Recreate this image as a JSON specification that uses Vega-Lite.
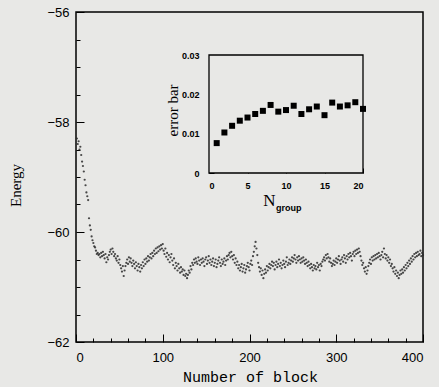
{
"$schema": "https://vega.github.io/schema/vega-lite/v6.json",
"width": 347, "height": 330,
"autosize": {"type": "none"},
"padding": {"left": 76, "top": 12, "right": 16, "bottom": 45},
"background": "#e8e8e6",
"config": {"view": {"stroke": "black", "strokeWidth": 1.5}, "axis": {"grid": false, "domainColor": "black", "tickColor": "black", "labelColor": "black", "titleColor": "black", "tickWidth": 1, "labelOverlap": false}},
"datasets": {
"energy": [
{"block":1,"energy":-58.30},{"block":2,"energy":-58.40},{"block":3,"energy":-58.35},{"block":4,"energy":-58.50},{"block":5,"energy":-58.45},{"block":6,"energy":-58.60},{"block":7,"energy":-58.72},{"block":8,"energy":-58.80},{"block":9,"energy":-58.90},{"block":10,"energy":-59.05},
{"block":11,"energy":-59.15},{"block":12,"energy":-59.28},{"block":13,"energy":-59.35},{"block":14,"energy":-59.42},{"block":15,"energy":-59.75},{"block":16,"energy":-59.88},{"block":17,"energy":-59.96},{"block":18,"energy":-60.08},{"block":19,"energy":-60.15},{"block":20,"energy":-60.20},
{"block":21,"energy":-60.26},{"block":22,"energy":-60.28},{"block":23,"energy":-60.34},{"block":24,"energy":-60.40},{"block":25,"energy":-60.38},{"block":26,"energy":-60.42},{"block":27,"energy":-60.40},{"block":28,"energy":-60.46},{"block":29,"energy":-60.38},{"block":30,"energy":-60.44},
{"block":31,"energy":-60.36},{"block":32,"energy":-60.42},{"block":33,"energy":-60.48},{"block":34,"energy":-60.40},{"block":35,"energy":-60.55},{"block":36,"energy":-60.46},{"block":37,"energy":-60.50},{"block":38,"energy":-60.42},{"block":39,"energy":-60.36},{"block":40,"energy":-60.32},
{"block":41,"energy":-60.40},{"block":42,"energy":-60.30},{"block":43,"energy":-60.36},{"block":44,"energy":-60.44},{"block":45,"energy":-60.40},{"block":46,"energy":-60.48},{"block":47,"energy":-60.52},{"block":48,"energy":-60.44},{"block":49,"energy":-60.56},{"block":50,"energy":-60.50},
{"block":51,"energy":-60.60},{"block":52,"energy":-60.66},{"block":53,"energy":-60.72},{"block":54,"energy":-60.62},{"block":55,"energy":-60.80},{"block":56,"energy":-60.70},{"block":57,"energy":-60.62},{"block":58,"energy":-60.56},{"block":59,"energy":-60.50},{"block":60,"energy":-60.58},
{"block":61,"energy":-60.46},{"block":62,"energy":-60.54},{"block":63,"energy":-60.48},{"block":64,"energy":-60.56},{"block":65,"energy":-60.62},{"block":66,"energy":-60.52},{"block":67,"energy":-60.58},{"block":68,"energy":-60.66},{"block":69,"energy":-60.55},{"block":70,"energy":-60.62},
{"block":71,"energy":-60.70},{"block":72,"energy":-60.58},{"block":73,"energy":-60.64},{"block":74,"energy":-60.72},{"block":75,"energy":-60.60},{"block":76,"energy":-60.66},{"block":77,"energy":-60.55},{"block":78,"energy":-60.62},{"block":79,"energy":-60.50},{"block":80,"energy":-60.58},
{"block":81,"energy":-60.48},{"block":82,"energy":-60.54},{"block":83,"energy":-60.44},{"block":84,"energy":-60.52},{"block":85,"energy":-60.46},{"block":86,"energy":-60.40},{"block":87,"energy":-60.48},{"block":88,"energy":-60.38},{"block":89,"energy":-60.44},{"block":90,"energy":-60.34},
{"block":91,"energy":-60.40},{"block":92,"energy":-60.30},{"block":93,"energy":-60.38},{"block":94,"energy":-60.28},{"block":95,"energy":-60.35},{"block":96,"energy":-60.26},{"block":97,"energy":-60.32},{"block":98,"energy":-60.24},{"block":99,"energy":-60.30},{"block":100,"energy":-60.22},
{"block":101,"energy":-60.34},{"block":102,"energy":-60.40},{"block":103,"energy":-60.30},{"block":104,"energy":-60.45},{"block":105,"energy":-60.38},{"block":106,"energy":-60.50},{"block":107,"energy":-60.42},{"block":108,"energy":-60.55},{"block":109,"energy":-60.46},{"block":110,"energy":-60.40},
{"block":111,"energy":-60.52},{"block":112,"energy":-60.60},{"block":113,"energy":-60.48},{"block":114,"energy":-60.66},{"block":115,"energy":-60.56},{"block":116,"energy":-60.62},{"block":117,"energy":-60.70},{"block":118,"energy":-60.58},{"block":119,"energy":-60.66},{"block":120,"energy":-60.74},
{"block":121,"energy":-60.64},{"block":122,"energy":-60.72},{"block":123,"energy":-60.68},{"block":124,"energy":-60.78},{"block":125,"energy":-60.70},{"block":126,"energy":-60.80},{"block":127,"energy":-60.76},{"block":128,"energy":-60.84},{"block":129,"energy":-60.78},{"block":130,"energy":-60.70},
{"block":131,"energy":-60.74},{"block":132,"energy":-60.62},{"block":133,"energy":-60.68},{"block":134,"energy":-60.56},{"block":135,"energy":-60.60},{"block":136,"energy":-60.50},{"block":137,"energy":-60.56},{"block":138,"energy":-60.48},{"block":139,"energy":-60.54},{"block":140,"energy":-60.58},
{"block":141,"energy":-60.46},{"block":142,"energy":-60.52},{"block":143,"energy":-60.60},{"block":144,"energy":-60.50},{"block":145,"energy":-60.56},{"block":146,"energy":-60.48},{"block":147,"energy":-60.54},{"block":148,"energy":-60.62},{"block":149,"energy":-60.50},{"block":150,"energy":-60.46},
{"block":151,"energy":-60.58},{"block":152,"energy":-60.52},{"block":153,"energy":-60.44},{"block":154,"energy":-60.56},{"block":155,"energy":-60.50},{"block":156,"energy":-60.60},{"block":157,"energy":-60.54},{"block":158,"energy":-60.48},{"block":159,"energy":-60.62},{"block":160,"energy":-60.56},
{"block":161,"energy":-60.50},{"block":162,"energy":-60.64},{"block":163,"energy":-60.58},{"block":164,"energy":-60.52},{"block":165,"energy":-60.46},{"block":166,"energy":-60.56},{"block":167,"energy":-60.62},{"block":168,"energy":-60.50},{"block":169,"energy":-60.58},{"block":170,"energy":-60.54},
{"block":171,"energy":-60.48},{"block":172,"energy":-60.60},{"block":173,"energy":-60.52},{"block":174,"energy":-60.44},{"block":175,"energy":-60.50},{"block":176,"energy":-60.42},{"block":177,"energy":-60.38},{"block":178,"energy":-60.46},{"block":179,"energy":-60.36},{"block":180,"energy":-60.44},
{"block":181,"energy":-60.50},{"block":182,"energy":-60.42},{"block":183,"energy":-60.56},{"block":184,"energy":-60.48},{"block":185,"energy":-60.60},{"block":186,"energy":-60.54},{"block":187,"energy":-60.66},{"block":188,"energy":-60.60},{"block":189,"energy":-60.70},{"block":190,"energy":-60.64},
{"block":191,"energy":-60.58},{"block":192,"energy":-60.72},{"block":193,"energy":-60.66},{"block":194,"energy":-60.60},{"block":195,"energy":-60.74},{"block":196,"energy":-60.68},{"block":197,"energy":-60.62},{"block":198,"energy":-60.56},{"block":199,"energy":-60.64},{"block":200,"energy":-60.70},
{"block":201,"energy":-60.58},{"block":202,"energy":-60.52},{"block":203,"energy":-60.60},{"block":204,"energy":-60.44},{"block":205,"energy":-60.36},{"block":206,"energy":-60.26},{"block":207,"energy":-60.18},{"block":208,"energy":-60.30},{"block":209,"energy":-60.42},{"block":210,"energy":-60.56},
{"block":211,"energy":-60.64},{"block":212,"energy":-60.72},{"block":213,"energy":-60.66},{"block":214,"energy":-60.78},{"block":215,"energy":-60.70},{"block":216,"energy":-60.84},{"block":217,"energy":-60.76},{"block":218,"energy":-60.68},{"block":219,"energy":-60.74},{"block":220,"energy":-60.62},
{"block":221,"energy":-60.70},{"block":222,"energy":-60.64},{"block":223,"energy":-60.58},{"block":224,"energy":-60.66},{"block":225,"energy":-60.60},{"block":226,"energy":-60.54},{"block":227,"energy":-60.62},{"block":228,"energy":-60.56},{"block":229,"energy":-60.68},{"block":230,"energy":-60.60},
{"block":231,"energy":-60.54},{"block":232,"energy":-60.64},{"block":233,"energy":-60.58},{"block":234,"energy":-60.50},{"block":235,"energy":-60.62},{"block":236,"energy":-60.56},{"block":237,"energy":-60.66},{"block":238,"energy":-60.60},{"block":239,"energy":-60.52},{"block":240,"energy":-60.58},
{"block":241,"energy":-60.64},{"block":242,"energy":-60.54},{"block":243,"energy":-60.46},{"block":244,"energy":-60.60},{"block":245,"energy":-60.56},{"block":246,"energy":-60.50},{"block":247,"energy":-60.58},{"block":248,"energy":-60.52},{"block":249,"energy":-60.46},{"block":250,"energy":-60.54},
{"block":251,"energy":-60.48},{"block":252,"energy":-60.42},{"block":253,"energy":-60.50},{"block":254,"energy":-60.56},{"block":255,"energy":-60.46},{"block":256,"energy":-60.52},{"block":257,"energy":-60.44},{"block":258,"energy":-60.50},{"block":259,"energy":-60.56},{"block":260,"energy":-60.48},
{"block":261,"energy":-60.54},{"block":262,"energy":-60.46},{"block":263,"energy":-60.52},{"block":264,"energy":-60.58},{"block":265,"energy":-60.50},{"block":266,"energy":-60.56},{"block":267,"energy":-60.62},{"block":268,"energy":-60.54},{"block":269,"energy":-60.60},{"block":270,"energy":-60.66},
{"block":271,"energy":-60.58},{"block":272,"energy":-60.64},{"block":273,"energy":-60.70},{"block":274,"energy":-60.60},{"block":275,"energy":-60.66},{"block":276,"energy":-60.62},{"block":277,"energy":-60.68},{"block":278,"energy":-60.56},{"block":279,"energy":-60.64},{"block":280,"energy":-60.60},
{"block":281,"energy":-60.70},{"block":282,"energy":-60.58},{"block":283,"energy":-60.62},{"block":284,"energy":-60.54},{"block":285,"energy":-60.50},{"block":286,"energy":-60.46},{"block":287,"energy":-60.52},{"block":288,"energy":-60.42},{"block":289,"energy":-60.48},{"block":290,"energy":-60.40},
{"block":291,"energy":-60.46},{"block":292,"energy":-60.54},{"block":293,"energy":-60.48},{"block":294,"energy":-60.56},{"block":295,"energy":-60.62},{"block":296,"energy":-60.58},{"block":297,"energy":-60.52},{"block":298,"energy":-60.60},{"block":299,"energy":-60.54},{"block":300,"energy":-60.48},
{"block":301,"energy":-60.56},{"block":302,"energy":-60.50},{"block":303,"energy":-60.44},{"block":304,"energy":-60.52},{"block":305,"energy":-60.58},{"block":306,"energy":-60.50},{"block":307,"energy":-60.46},{"block":308,"energy":-60.54},{"block":309,"energy":-60.42},{"block":310,"energy":-60.48},
{"block":311,"energy":-60.56},{"block":312,"energy":-60.44},{"block":313,"energy":-60.50},{"block":314,"energy":-60.40},{"block":315,"energy":-60.46},{"block":316,"energy":-60.38},{"block":317,"energy":-60.44},{"block":318,"energy":-60.52},{"block":319,"energy":-60.40},{"block":320,"energy":-60.36},
{"block":321,"energy":-60.44},{"block":322,"energy":-60.34},{"block":323,"energy":-60.40},{"block":324,"energy":-60.32},{"block":325,"energy":-60.38},{"block":326,"energy":-60.30},{"block":327,"energy":-60.36},{"block":328,"energy":-60.44},{"block":329,"energy":-60.52},{"block":330,"energy":-60.60},
{"block":331,"energy":-60.56},{"block":332,"energy":-60.66},{"block":333,"energy":-60.72},{"block":334,"energy":-60.64},{"block":335,"energy":-60.76},{"block":336,"energy":-60.70},{"block":337,"energy":-60.62},{"block":338,"energy":-60.56},{"block":339,"energy":-60.50},{"block":340,"energy":-60.58},
{"block":341,"energy":-60.46},{"block":342,"energy":-60.52},{"block":343,"energy":-60.44},{"block":344,"energy":-60.50},{"block":345,"energy":-60.42},{"block":346,"energy":-60.48},{"block":347,"energy":-60.40},{"block":348,"energy":-60.46},{"block":349,"energy":-60.38},{"block":350,"energy":-60.44},
{"block":351,"energy":-60.50},{"block":352,"energy":-60.42},{"block":353,"energy":-60.36},{"block":354,"energy":-60.46},{"block":355,"energy":-60.30},{"block":356,"energy":-60.40},{"block":357,"energy":-60.48},{"block":358,"energy":-60.42},{"block":359,"energy":-60.52},{"block":360,"energy":-60.46},
{"block":361,"energy":-60.56},{"block":362,"energy":-60.50},{"block":363,"energy":-60.62},{"block":364,"energy":-60.58},{"block":365,"energy":-60.66},{"block":366,"energy":-60.72},{"block":367,"energy":-60.64},{"block":368,"energy":-60.76},{"block":369,"energy":-60.70},{"block":370,"energy":-60.80},
{"block":371,"energy":-60.74},{"block":372,"energy":-60.84},{"block":373,"energy":-60.78},{"block":374,"energy":-60.70},{"block":375,"energy":-60.76},{"block":376,"energy":-60.68},{"block":377,"energy":-60.74},{"block":378,"energy":-60.64},{"block":379,"energy":-60.70},{"block":380,"energy":-60.60},
{"block":381,"energy":-60.66},{"block":382,"energy":-60.56},{"block":383,"energy":-60.62},{"block":384,"energy":-60.52},{"block":385,"energy":-60.58},{"block":386,"energy":-60.48},{"block":387,"energy":-60.54},{"block":388,"energy":-60.44},{"block":389,"energy":-60.50},{"block":390,"energy":-60.40},
{"block":391,"energy":-60.46},{"block":392,"energy":-60.38},{"block":393,"energy":-60.44},{"block":394,"energy":-60.36},{"block":395,"energy":-60.42},{"block":396,"energy":-60.40},{"block":397,"energy":-60.34},{"block":398,"energy":-60.44},{"block":399,"energy":-60.38},{"block":400,"energy":-60.42}
],
"err": [
{"n":1,"err":0.0076},{"n":2,"err":0.0103},{"n":3,"err":0.0120},{"n":4,"err":0.0133},{"n":5,"err":0.0141},{"n":6,"err":0.0150},{"n":7,"err":0.0158},{"n":8,"err":0.0173},{"n":9,"err":0.0156},{"n":10,"err":0.0160},
{"n":11,"err":0.0171},{"n":12,"err":0.0150},{"n":13,"err":0.0162},{"n":14,"err":0.0169},{"n":15,"err":0.0147},{"n":16,"err":0.0179},{"n":17,"err":0.0169},{"n":18,"err":0.0172},{"n":19,"err":0.0180},{"n":20,"err":0.0163}
]
},
"layer": [
{
"data": {"name": "energy"},
"mark": {"type": "circle", "size": 5, "color": "#2a2a2a", "opacity": 0.85},
"encoding": {
"x": {"field": "block", "type": "quantitative",
 "scale": {"domain": [0, 400], "nice": false},
 "axis": {"orient": "bottom", "domain": false, "labelOverlap": false,
  "values": [0,20,40,60,80,100,120,140,160,180,200,220,240,260,280,300,320,340,360,380,400],
  "tickSize": {"condition": {"test": "datum.value % 100 === 0", "value": -8}, "value": -4},
  "labelExpr": "datum.value % 100 === 0 ? datum.label : ''",
  "labelFont": "Liberation Sans", "labelFontSize": 13, "labelPadding": 17,
  "title": "Number of block", "titleFont": "Liberation Mono", "titleFontSize": 15, "titleFontWeight": "normal",
  "titleX": 174, "titleY": 39, "titleBaseline": "alphabetic", "titleAlign": "center"}},
"y": {"field": "energy", "type": "quantitative",
 "scale": {"domain": [-62, -56], "nice": false, "zero": false},
 "axis": {"orient": "left", "domain": false, "labelOverlap": false,
  "values": [-62,-61.5,-61,-60.5,-60,-59.5,-59,-58.5,-58,-57.5,-57,-56.5,-56],
  "tickSize": {"condition": {"test": "abs(datum.value % 2) < 0.01", "value": -8}, "value": -4},
  "labelExpr": "abs(datum.value % 2) < 0.01 ? format(datum.value, 'd') : ''",
  "labelFont": "Liberation Sans", "labelFontSize": 13, "labelPadding": 15,
  "title": "Energy", "titleFont": "Liberation Serif", "titleFontSize": 15, "titleFontWeight": "normal",
  "titleX": -61, "titleY": 173, "titleBaseline": "middle", "titleAlign": "center", "titleAngle": 270}}
}
},
{
"layer": [
{
"data": {"values": [{}]},
"mark": {"type": "rect", "fill": "#e8e8e6", "stroke": "black", "strokeWidth": 1.3},
"encoding": {
"x": {"datum": 0, "type": "quantitative",
 "scale": {"domain": [0, 20], "range": [133, 287], "nice": false},
 "axis": {"orient": "bottom", "offset": -169, "domain": false, "labelOverlap": false,
  "values": [0,5,10,15,20], "tickSize": -5,
  "labelFont": "Liberation Sans", "labelFontWeight": "bold", "labelFontSize": 9, "labelPadding": 13,
  "title": "N", "titleFont": "Liberation Serif", "titleFontSize": 17, "titleFontWeight": "normal",
  "titleX": 193, "titleY": 32, "titleBaseline": "alphabetic", "titleAlign": "center"}},
"x2": {"datum": 20},
"y": {"datum": 0, "type": "quantitative",
 "scale": {"domain": [0, 0.03], "range": [161, 43], "nice": false},
 "axis": {"orient": "left", "offset": -133, "domain": false, "labelOverlap": false,
  "values": [0,0.005,0.01,0.015,0.02,0.025,0.03],
  "tickSize": {"condition": {"test": "abs(datum.value*100 - round(datum.value*100)) < 0.001", "value": -5}, "value": -3},
  "labelExpr": "abs(datum.value*100 - round(datum.value*100)) < 0.001 ? (datum.value === 0 ? '0' : format(datum.value, '.2f')) : ''",
  "labelFont": "Liberation Sans", "labelFontWeight": "bold", "labelFontSize": 9, "labelPadding": 15,
  "title": "error bar", "titleFont": "Liberation Serif", "titleFontSize": 15, "titleFontWeight": "normal",
  "titleX": -37, "titleY": 98, "titleBaseline": "middle", "titleAlign": "center", "titleAngle": 270}},
"y2": {"datum": 0.03}
}
},
{
"data": {"name": "err"},
"mark": {"type": "square", "size": 36, "color": "black", "opacity": 1},
"encoding": {
"x": {"field": "n", "type": "quantitative"},
"y": {"field": "err", "type": "quantitative"}
}
},
{
"data": {"values": [{}]},
"mark": {"type": "text", "text": "group", "font": "Liberation Sans", "fontWeight": "bold", "fontSize": 9, "align": "left", "baseline": "alphabetic", "color": "black"},
"encoding": {
"x": {"datum": 8.7, "type": "quantitative"},
"y": {"datum": -0.0097, "type": "quantitative"}
}
}
]
}
],
"resolve": {"scale": {"x": "independent", "y": "independent"}}
}
